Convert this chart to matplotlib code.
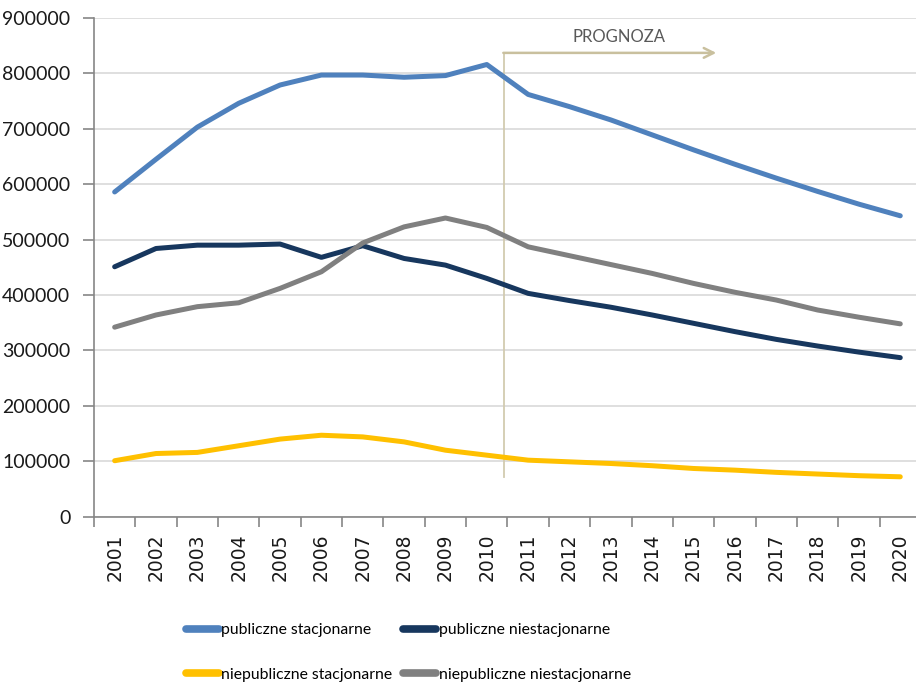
import matplotlib
matplotlib.use('Agg')
import matplotlib.pyplot as plt
from matplotlib.ticker import FixedLocator

plt.rcParams['font.family'] = ['Lato', 'DejaVu Sans']

years = [str(y) for y in range(2001, 2021)]

pub_stac = [586000, 645000, 703000, 746000, 779000, 797000, 797000, 793000, 796000, 816000,
            762000, 740000, 716000, 689000, 662000, 636000, 611000, 587000, 564000, 543000]
pub_niestac = [451000, 484000, 490000, 490000, 492000, 468000, 489000, 466000, 454000, 430000,
               403000, 390000, 378000, 364000, 349000, 334000, 320000, 308000, 297000, 287000]
niepub_stac = [101000, 114000, 116000, 128000, 140000, 147000, 144000, 135000, 120000, 111000,
               102000, 99000, 96000, 92000, 87000, 84000, 80000, 77000, 74000, 72000]
niepub_niestac = [342000, 364000, 379000, 386000, 412000, 442000, 494000, 523000, 539000, 522000,
                  487000, 471000, 455000, 439000, 421000, 405000, 391000, 373000, 360000, 348000]

series = [
    ('publiczne stacjonarne', pub_stac, '#4F81BD'),
    ('publiczne niestacjonarne', pub_niestac, '#17375E'),
    ('niepubliczne stacjonarne', niepub_stac, '#FFC000'),
    ('niepubliczne niestacjonarne', niepub_niestac, '#808080'),
]

# forecast marker (category index units)
prog_x = 9.42
prog_end = 14.55
prog_top = 837000
prog_bottom = 72000

fig = plt.figure(figsize=(9.16, 6.83), dpi=100)
ax = fig.add_axes([0.1026, 0.2435, 0.9028, 0.7302])

x = list(range(len(years)))
handles = {}
for name, vals, col in series:
    h, = ax.plot(x, vals, color=col, lw=3.6, solid_capstyle='round',
                 solid_joinstyle='round', label=name, zorder=3)
    handles[name] = h

ax.set_xlim(-0.5, len(years) - 0.5)
ax.set_ylim(0, 900000)
ax.set_yticks(range(0, 900001, 100000))
ax.set_yticklabels([str(v) for v in range(0, 900001, 100000)], fontsize=14)
ax.yaxis.grid(True, color='#D9D9D9', lw=1.2)
ax.set_axisbelow(True)

ax.set_xticks(x)
ax.set_xticklabels(years, rotation=90, family='DejaVu Sans', fontsize=13.5)
ax.xaxis.set_minor_locator(FixedLocator([i - 0.5 for i in range(len(years) + 1)]))
ax.tick_params(axis='x', which='major', length=0, pad=12, labelcolor='#1a1a1a')
ax.tick_params(axis='x', which='minor', length=7, color='#868686', width=1.2)
ax.tick_params(axis='y', length=8, color='#868686', width=1.2, pad=9,
               labelcolor='#1a1a1a')

for s in ['top', 'right']:
    ax.spines[s].set_visible(False)
for s in ['left', 'bottom']:
    ax.spines[s].set_color('#868686')
    ax.spines[s].set_linewidth(1.2)

# PROGNOZA marker
ax.plot([prog_x, prog_x], [prog_bottom, prog_top], color='#D2CBB0', lw=1.3, zorder=2)
ax.annotate('', xy=(prog_end, prog_top), xytext=(prog_x - 0.02, prog_top),
            arrowprops=dict(arrowstyle='->,head_length=0.7,head_width=0.35',
                            color='#C9C09E', lw=1.8, shrinkA=0, shrinkB=0))
ax.text(12.2, 866000, 'PROGNOZA', ha='center', va='center', fontsize=12,
        color='#595959')

# legend rows: publiczne on top, niepubliczne below (column-major fill)
order = ['publiczne stacjonarne', 'niepubliczne stacjonarne',
         'publiczne niestacjonarne', 'niepubliczne niestacjonarne']
leg = fig.legend(handles=[handles[k] for k in order], loc='lower left',
                 bbox_to_anchor=(0.186, -0.021), ncol=2, frameon=False, fontsize=11.3,
                 handlelength=2.1, handletextpad=0.15, columnspacing=0.7,
                 labelspacing=1.95, borderaxespad=0.6)
for lh in leg.legend_handles:
    lh.set_linewidth(5.5)

fig.savefig('out.png', dpi=100)
